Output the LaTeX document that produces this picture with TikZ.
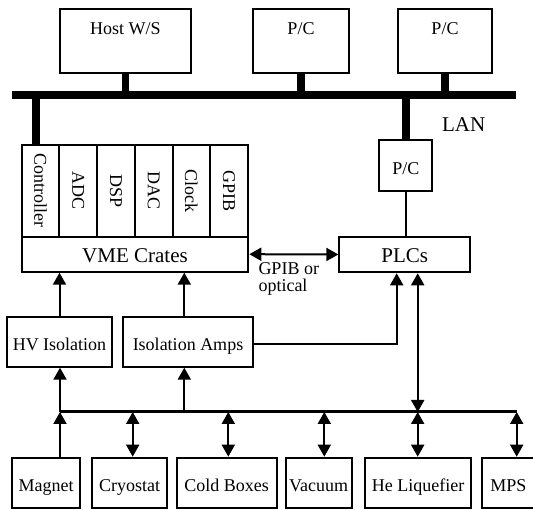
\documentclass[tikz,border=0pt]{standalone}
\usepackage{fontspec}
\setmainfont{Liberation Serif}
\usetikzlibrary{arrows.meta}
\begin{document}
\begin{tikzpicture}[x=1pt,y=-1pt,
  box/.style={draw, line width=2pt, inner sep=0pt, font=\fontsize{18}{20}\selectfont, text height=20pt, text depth=2pt},
  bigbox/.style={draw, line width=2pt, inner sep=0pt, font=\fontsize{21}{23}\selectfont, text height=20pt, text depth=3pt},
  topbox/.style={draw, line width=2pt, inner sep=0pt, font=\fontsize{18}{20}\selectfont, anchor=north, text height=25.7pt, text depth=38pt},
  card/.style={draw, line width=2pt, inner sep=0pt, rotate=-90, minimum width=91.7pt, minimum height=37.7pt, font=\fontsize{18}{20}\selectfont},
  lbl/.style={inner sep=0pt},
  bus/.style={line width=8pt},
  stub/.style={line width=7.5pt},
  lbus/.style={line width=3pt},
  conn/.style={line width=2pt},
  arr/.style={conn, -{Triangle[length=12pt,width=13pt]}},
  darr/.style={conn, {Triangle[length=12pt,width=13pt]}-{Triangle[length=12pt,width=13pt]}},
]
\useasboundingbox (0,0) rectangle (533,510);
\clip (0,0) rectangle (533,510);

% top computers
\node[topbox, minimum width=130.7pt] (host) at (125.35,8.3) {Host W/S};
\node[topbox, minimum width=95.4pt] (pc1) at (301,8.3) {P/C};
\node[topbox, minimum width=94.6pt] (pc2) at (445,8.3) {P/C};

% LAN bus
\coordinate (busL) at (12.3,95);
\coordinate (busR) at (516,95);
\draw[bus] (busL) -- (busR);
\node[lbl, font=\fontsize{21}{23}\selectfont] (lan) at (463.7,125) {LAN};

% VME cards
\node[card] (c1) at (40.55,190.85) {Controller};
\node[card] (c2) at (78.25,190.85) {ADC};
\node[card] (c3) at (115.95,190.85) {DSP};
\node[card] (c4) at (153.65,190.85) {DAC};
\node[card] (c5) at (191.35,190.85) {Clock};
\node[card] (c6) at (229.05,190.85) {GPIB};
\node[bigbox, minimum width=226.6pt, minimum height=35pt] (vme) at (135,254.2) {VME Crates};

% PLC side
\node[box, minimum width=53pt, minimum height=50.5pt] (pcs) at (405.8,165.3) {P/C};
\node[bigbox, minimum width=130.7pt, minimum height=35.6pt] (plcs) at (404.7,254.5) {PLCs};
\node[lbl, anchor=north west, align=left, font=\fontsize{18}{17}\selectfont] (gpib) at (258.3,262.5) {GPIB or\\optical};

% isolation
\node[box, minimum width=105.6pt, minimum height=49.4pt] (hv) at (59.5,342) {HV Isolation};
\node[box, minimum width=130.6pt, minimum height=49.4pt] (iso) at (188,342) {Isolation Amps};

% bottom equipment
\node[box, minimum width=67.7pt, minimum height=50.6pt] (mag) at (46.2,483) {Magnet};
\node[box, minimum width=75.6pt, minimum height=50.6pt] (cryo) at (129.5,483) {Cryostat};
\node[box, minimum width=100pt, minimum height=50.6pt] (cold) at (226.7,483) {Cold Boxes};
\node[box, minimum width=66pt, minimum height=50.6pt] (vac) at (318.7,483) {Vacuum};
\node[box, minimum width=106pt, minimum height=50.6pt] (hel) at (418,483) {He Liquefier};
\node[box, minimum width=52pt, minimum height=50.6pt] (mps) at (508.3,483) {MPS};

% LAN stubs
\coordinate (cl) at (36,95);
\draw[stub] (host.south) -- (host.south |- busL);
\draw[stub] (pc1.south) -- (pc1.south |- busL);
\draw[stub] (pc2.south) -- (pc2.south |- busL);
\draw[stub] (cl) -- (cl |- c1.west);
\draw[stub] (pcs.north |- busL) -- (pcs.north);

% upper connectors
\draw[conn] (pcs.south) -- (pcs.south |- plcs.north);
\draw[darr] (vme.east) -- (plcs.west);
\coordinate (xi) at (184.3,412);
\draw[arr] (hv.north) -- (hv.north |- vme.south);
\draw[arr] (xi |- iso.north) -- (xi |- vme.south);
\coordinate (xa) at (396.7,344.3);
\draw[arr] (iso.east |- xa) -- (xa) -- (xa |- plcs.south);

% lower bus
\coordinate (lbL) at (60,412);
\coordinate (lbR) at (516.7,412);
\coordinate (lb3) at (132.7,412);
\coordinate (lb4) at (228.3,412);
\coordinate (lb5) at (324.3,412);
\coordinate (lb6) at (417.7,412);
\draw[lbus] (lbL) -- (lbR);
\draw[arr] (lbL) -- (lbL |- hv.south);
\draw[arr] (xi) -- (xi |- iso.south);
\draw[darr] (lb6) -- (lb6 |- plcs.south);
\draw[arr] (lbL |- mag.north) -- (lbL);
\draw[darr] (lb3) -- (lb3 |- cryo.north);
\draw[darr] (lb4) -- (lb4 |- cold.north);
\draw[darr] (lb5) -- (lb5 |- vac.north);
\draw[darr] (lb6) -- (lb6 |- hel.north);
\draw[darr] (lbR) -- (lbR |- mps.north);
\end{tikzpicture}
\end{document}
